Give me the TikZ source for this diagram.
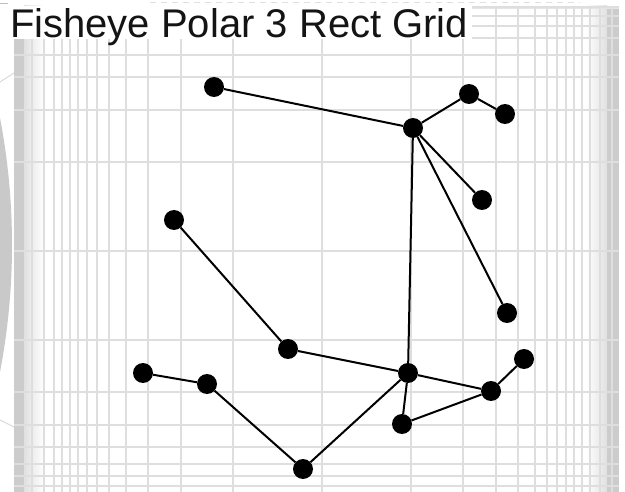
\documentclass[tikz,border=0pt]{standalone}
\usepackage{fontspec}
\setmainfont{Liberation Sans}
\begin{document}
\begin{tikzpicture}[x=1pt,y=-1pt,
  gl/.style={draw=black!13, line width=1.4pt},
  vtx/.style={circle, fill=black, inner sep=0pt, minimum size=20pt},
  lnk/.style={draw=black, line width=2pt}]
\useasboundingbox (0,0) rectangle (625,492);
% faint polar background outside the panel
\begin{scope}
  \clip (0,0) rectangle (14,492);
  \fill[black!21] (-660,245) circle (672);
  \draw[black!15, line width=1pt] (0,82) -- (14,73);
  \draw[black!15, line width=1pt] (0,420) -- (14,427);
\end{scope}
\draw[black!25, line width=1pt] (0,4) -- (8,4);
\draw[black!12, line width=1pt, dash pattern=on 6pt off 5pt] (150,3) -- (580,3);
% panel
\fill[white] (14,6) rectangle (619,492);
\fill[black!20] (14,6) rectangle (24,492);
\shade[left color=black!12, right color=white] (24,6) rectangle (44,492);
\shade[left color=white, right color=black!12] (586,6) rectangle (607,492);
\fill[black!20] (607,6) rectangle (619,492);
\fill[black!10] (14,6) rectangle (619,9);
% fisheye grid
\begin{scope}
  \clip (14,6) rectangle (619,492);
  \foreach \d in {0,89,141,174,196,213,225,235,244,252,260,268,278,290} {
    \draw[gl] (322+\d,6) -- (322+\d,492);
    \draw[gl] (322-\d,6) -- (322-\d,492);
  }
  \foreach \d in {0,89,141,174,196,213,225,235,244} {
    \draw[gl] (14,251+\d) -- (619,251+\d);
    \draw[gl] (14,251-\d) -- (619,251-\d);
  }
\end{scope}
% title
\fill[white] (14,6) rectangle (472,39);
\node[anchor=base west, inner sep=0pt, text=black!92] (title) at (10,38)
  {\fontsize{40}{40}\selectfont Fisheye Polar 3 Rect Grid};
% nodes
\node[vtx] (A) at (214,87) {};
\node[vtx] (B) at (413,128) {};
\node[vtx] (C) at (469,94) {};
\node[vtx] (D) at (505,114) {};
\node[vtx] (E) at (482,200) {};
\node[vtx] (F) at (174,220) {};
\node[vtx] (G) at (507,313) {};
\node[vtx] (H) at (288,349) {};
\node[vtx] (I) at (408,373) {};
\node[vtx] (J) at (143,373) {};
\node[vtx] (K) at (207,384) {};
\node[vtx] (L) at (524,359) {};
\node[vtx] (M) at (491,391) {};
\node[vtx] (N) at (402,424) {};
\node[vtx] (O) at (303,469) {};
% links
\draw[lnk] (A) -- (B);
\draw[lnk] (B) -- (C);
\draw[lnk] (C) -- (D);
\draw[lnk] (B) -- (E);
\draw[lnk] (B) -- (G);
\draw[lnk] (B) -- (I);
\draw[lnk] (F) -- (H);
\draw[lnk] (H) -- (I);
\draw[lnk] (I) -- (M);
\draw[lnk] (M) -- (L);
\draw[lnk] (M) -- (N);
\draw[lnk] (I) -- (N);
\draw[lnk] (I) -- (O);
\draw[lnk] (O) -- (K);
\draw[lnk] (K) -- (J);
\end{tikzpicture}
\end{document}
